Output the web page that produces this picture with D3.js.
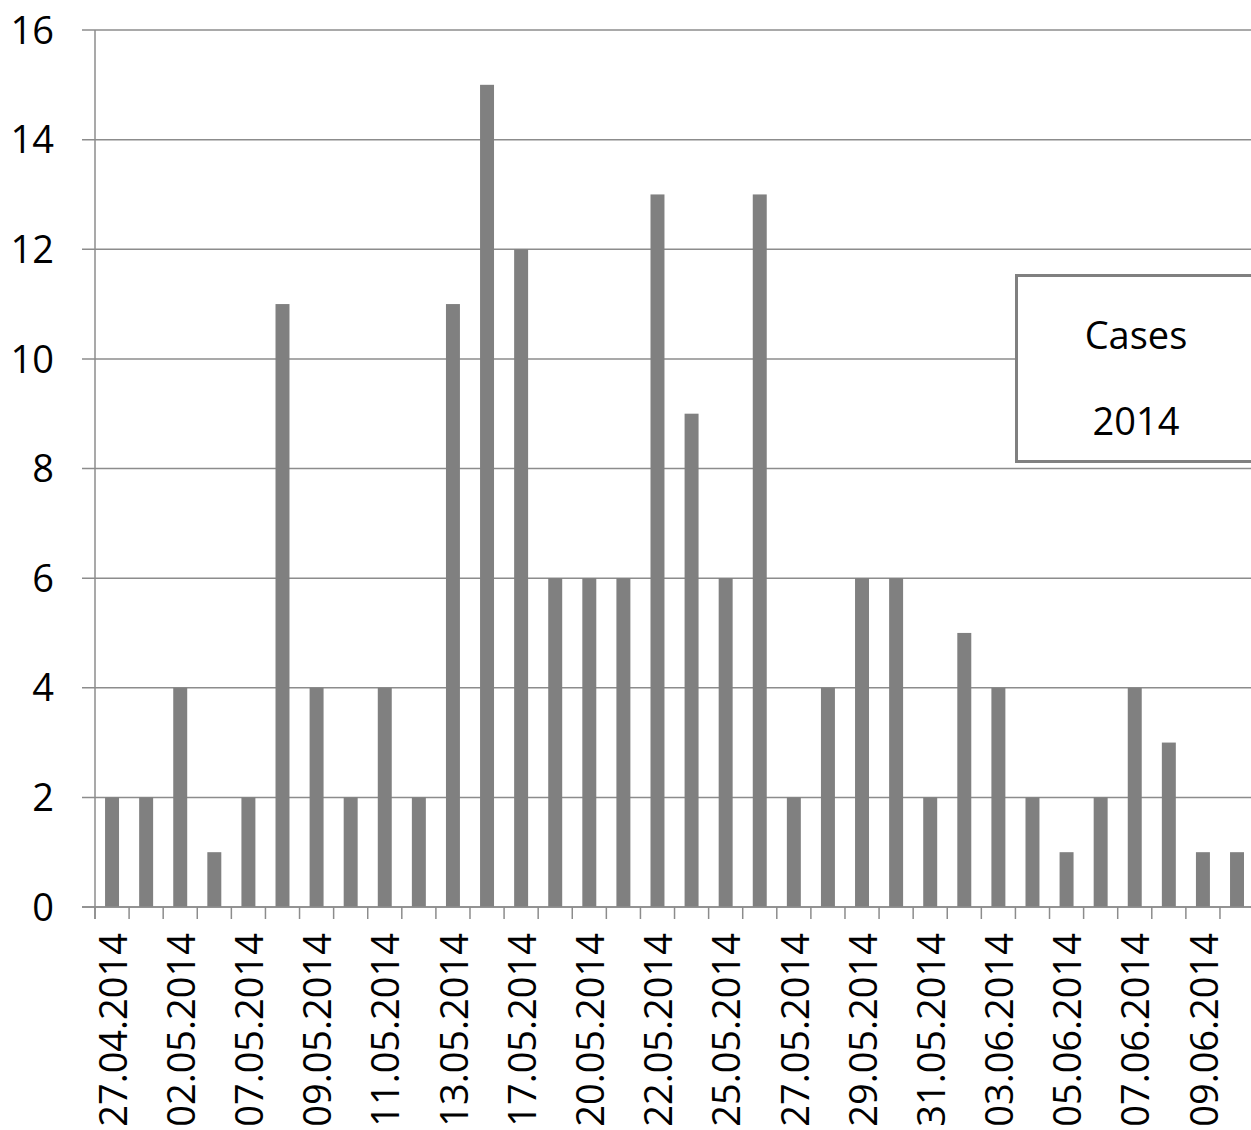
<!DOCTYPE html>
<html>
<head>
<meta charset="utf-8">
<script src="https://cdn.jsdelivr.net/npm/d3@7"></script>
<style>
  html, body { margin: 0; padding: 0; background: #fff; overflow: hidden; }
  svg { display: block; font-family: "Open Sans", sans-serif; }
</style>
</head>
<body>
<svg id="chart" width="1251" height="1130"></svg>
<script>
// ---- data ----
const dates = [
  "27.04.2014","30.04.2014","02.05.2014","05.05.2014","07.05.2014","08.05.2014",
  "09.05.2014","10.05.2014","11.05.2014","12.05.2014","13.05.2014","15.05.2014",
  "17.05.2014","19.05.2014","20.05.2014","21.05.2014","22.05.2014","23.05.2014",
  "25.05.2014","26.05.2014","27.05.2014","28.05.2014","29.05.2014","30.05.2014",
  "31.05.2014","01.06.2014","03.06.2014","04.06.2014","05.06.2014","06.06.2014",
  "07.06.2014","08.06.2014","09.06.2014","10.06.2014"
];
const cases = [2,2,4,1,2,11,4,2,4,2,11,15,12,6,6,6,13,9,6,13,2,4,6,6,2,5,4,2,1,2,4,3,1,1];
const yTicks = [0,2,4,6,8,10,12,14,16];
const legendLines = ["Cases", "2014"];

// ---- layout ----
(function () {
const svg = d3.select("#chart");
const mLeft = 95, mTop = 30, mBottom = 907;
const bandW = 34.09;
const x = d3.scaleBand().domain(dates).range([mLeft, mLeft + bandW * dates.length]).paddingInner(0.59).paddingOuter(0.295);
const y = d3.scaleLinear().domain([0, 16]).range([mBottom, mTop]);
const grid = "#8c8c8c";

// gridlines
svg.append("g").selectAll("line").data(yTicks).join("line")
  .attr("x1", 82).attr("x2", 1260)
  .attr("y1", d => y(d)).attr("y2", d => y(d))
  .attr("stroke", grid).attr("stroke-width", 1.5);

// y axis line
svg.append("line").attr("x1", mLeft).attr("x2", mLeft).attr("y1", mTop).attr("y2", mBottom + 12)
  .attr("stroke", grid).attr("stroke-width", 1.5);

// y labels
svg.append("g").selectAll("text").data(yTicks).join("text")
  .attr("x", 54).attr("y", d => y(d)).attr("dy", "0.36em")
  .attr("text-anchor", "end").attr("font-size", 38).attr("fill", "#000")
  .text(d => d);

// bars
svg.append("g").selectAll("rect").data(cases).join("rect")
  .attr("x", (d, i) => x(dates[i]))
  .attr("width", x.bandwidth())
  .attr("y", d => y(d))
  .attr("height", d => y(0) - y(d))
  .attr("fill", "#808080");

// category tick marks
const bounds = d3.range(dates.length + 1).map(i => mLeft + i * bandW);
svg.append("g").selectAll("line").data(bounds).join("line")
  .attr("x1", d => d).attr("x2", d => d)
  .attr("y1", mBottom).attr("y2", mBottom + 12)
  .attr("stroke", grid).attr("stroke-width", 1.5);

// x axis line
svg.append("line").attr("x1", 82).attr("x2", 1260).attr("y1", mBottom).attr("y2", mBottom)
  .attr("stroke", grid).attr("stroke-width", 1.5);

// x labels (every other)
svg.append("g").selectAll("text").data(dates.filter((d, i) => i % 2 === 0)).join("text")
  .attr("transform", d => `translate(${x(d) + x.bandwidth() / 2 + 1},933) rotate(-90)`)
  .attr("dy", "0.36em")
  .attr("text-anchor", "end").attr("font-size", 38).attr("fill", "#000")
  .text(d => d);

// legend box
const lg = svg.append("g");
lg.append("rect").attr("x", 1016.5).attr("y", 275.5).attr("width", 260).attr("height", 186)
  .attr("fill", "#fff").attr("stroke", "#808080").attr("stroke-width", 3);
lg.selectAll("text").data(legendLines).join("text")
  .attr("x", 1136).attr("y", (d, i) => 335 + i * 86).attr("dy", "0.36em")
  .attr("text-anchor", "middle").attr("font-size", 38).attr("fill", "#000")
  .text(d => d);
})();
</script>
</body>
</html>
